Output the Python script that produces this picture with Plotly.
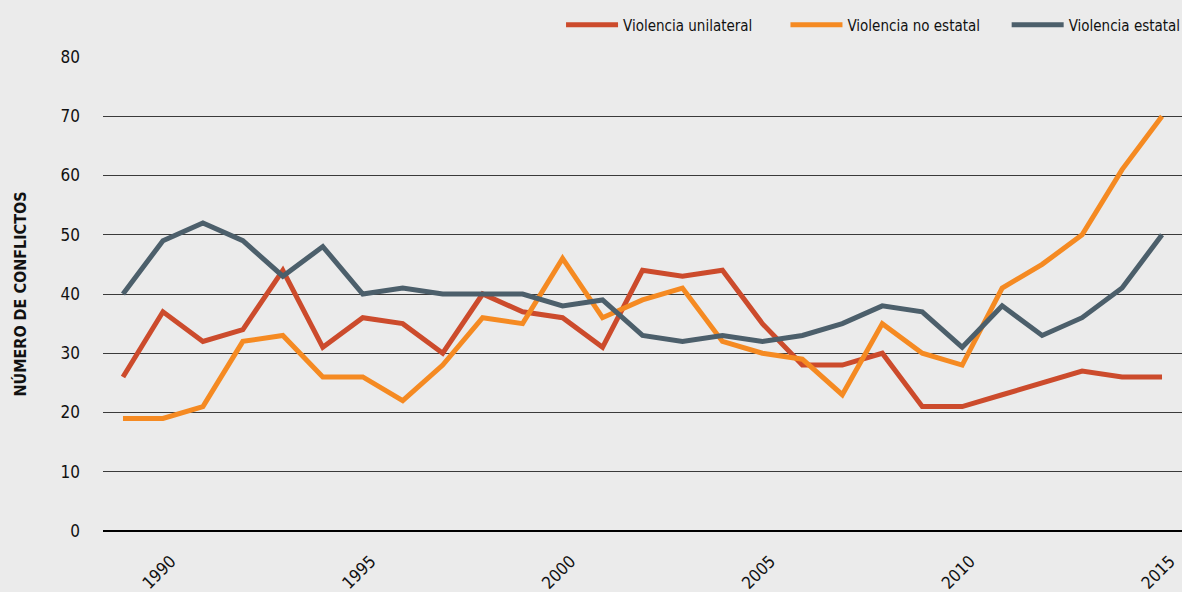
import plotly.graph_objects as go

years = list(range(1989, 2016))
unilateral = [26, 37, 32, 34, 44, 31, 36, 35, 30, 40, 37, 36, 31, 44, 43, 44, 35, 28, 28, 30, 21, 21, 23, 25, 27, 26, 26]
no_estatal = [19, 19, 21, 32, 33, 26, 26, 22, 28, 36, 35, 46, 36, 39, 41, 32, 30, 29, 23, 35, 30, 28, 41, 45, 50, 61, 70]
estatal = [40, 49, 52, 49, 43, 48, 40, 41, 40, 40, 40, 38, 39, 33, 32, 33, 32, 33, 35, 38, 37, 31, 38, 33, 36, 41, 50]

series_names = ["Violencia unilateral", "Violencia no estatal", "Violencia estatal"]
colors = ["#CC4B2C", "#F58A22", "#4C5F6B"]
legend_ids = ["legend", "legend2", "legend3"]
legend_x = [0.4245, 0.6325, 0.8375]

FONT = "Liberation Sans Narrow, DejaVu Sans Condensed, Arial Narrow, sans-serif"

fig = go.Figure()
for name, vals, c, lg in zip(series_names, [unilateral, no_estatal, estatal], colors, legend_ids):
    fig.add_trace(go.Scatter(x=years, y=vals, name=name, mode="lines", legend=lg,
                             line=dict(color=c, width=5)))

legend_common = dict(orientation="h", xanchor="left", y=1.0675, yanchor="middle",
                     font=dict(size=15, family=FONT, color="#111111"),
                     bgcolor="rgba(0,0,0,0)", itemwidth=52)

fig.update_layout(
    width=1182, height=592,
    paper_bgcolor="#EBEBEB", plot_bgcolor="#EBEBEB",
    margin=dict(l=103, r=0, t=57, b=61, autoexpand=False),
    font=dict(family=FONT, color="#111111", size=17),
    showlegend=True,
    legend=dict(x=legend_x[0], **legend_common),
    legend2=dict(x=legend_x[1], **legend_common),
    legend3=dict(x=legend_x[2], **legend_common),
    xaxis=dict(range=[1988.5, 2015.5], tickmode="linear", tick0=1990, dtick=5,
               tickangle=-45, showgrid=False, zeroline=False, showline=False,
               ticks="", ticklabelstandoff=16, ticklabelshift=8,
               tickfont=dict(size=17, family=FONT), automargin=False),
    yaxis=dict(range=[0, 80], tickmode="linear", tick0=0, dtick=10,
               showgrid=True, gridcolor="#3a3a3a", gridwidth=1,
               zeroline=True, zerolinecolor="#000000", zerolinewidth=2,
               ticks="", ticklabelstandoff=22, tickfont=dict(size=17, family=FONT),
               automargin=False,
               title=dict(text="<b>NÚMERO DE CONFLICTOS</b>", standoff=29,
                          font=dict(size=16, family=FONT))),
)

fig.write_html("out.html", config={"displayModeBar": False},
               post_script="document.body.style.margin='0';document.body.style.background='#EBEBEB';")
